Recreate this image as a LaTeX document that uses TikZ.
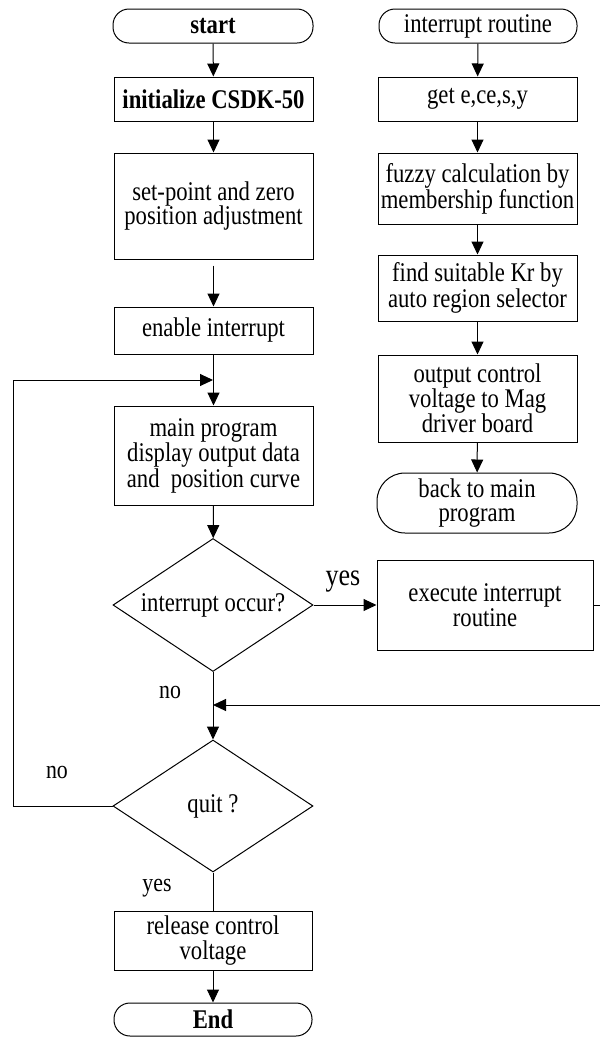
\documentclass[tikz,border=0pt]{standalone}
\usepackage{fontspec}
\setmainfont{Liberation Serif}[FakeStretch=0.84]
\usetikzlibrary{shapes.geometric,arrows.meta}
\begin{document}
\begin{tikzpicture}[x=1pt,y=-1pt,
  every node/.style={inner sep=0pt,align=center,font=\fontsize{27}{24.5}\selectfont},
  box/.style={draw,line width=1pt,rectangle},
  term/.style={draw,line width=1pt,rectangle,rounded corners=16pt},
  dec/.style={draw,line width=1pt,diamond,aspect=1.5,minimum width=200pt,minimum height=133pt},
  lbl/.style={font=\fontsize{26}{26}\selectfont},
  conn/.style={line width=1pt},
  arr/.style={line width=1pt,-{Triangle[length=13pt,width=12pt]}}]
\useasboundingbox (0,0) rectangle (600,1037);
% left column
\node[term,minimum width=200pt,minimum height=34pt,font=\fontsize{27}{24.5}\selectfont\bfseries] (start) at (213,26) {start};
\node[box,minimum width=199pt,minimum height=44pt,font=\fontsize{27}{24.5}\selectfont\bfseries] (init) at (213.5,99) {initialize CSDK-50};
\node[box,minimum width=199pt,minimum height=106pt] (sp) at (213.5,206) {set-point and zero\\position adjustment};
\node[box,minimum width=199pt,minimum height=47pt] (en) at (213.5,330.5) {enable interrupt};
\node[box,minimum width=199pt,minimum height=99pt] (mp) at (213.5,455.5) {main program\\display output data\\and\ \ position curve};
\node[dec] (d1) at (213,605) {interrupt occur?};
\node[box,minimum width=216pt,minimum height=90pt] (ex) at (485,605) {execute interrupt\\routine};
\node[dec,minimum height=132pt] (quit) at (213,806) {quit ?};
\node[box,minimum width=198pt,minimum height=59pt] (rel) at (213,940.5) {release control\\voltage};
\node[term,minimum width=198pt,minimum height=33pt,font=\fontsize{27}{24.5}\selectfont\bfseries] (end) at (213,1019.5) {End};
% right column
\node[term,minimum width=198pt,minimum height=34pt] (ir) at (478,26) {interrupt routine};
\node[box,minimum width=199pt,minimum height=44pt] (get) at (477.5,99) {get e,ce,s,y};
\node[box,minimum width=199pt,minimum height=71pt] (fz) at (477.5,188.5) {fuzzy calculation by\\membership function};
\node[box,minimum width=199pt,minimum height=66pt] (fd) at (477.5,288) {find suitable Kr by\\auto region selector};
\node[box,minimum width=199pt,minimum height=87pt] (out) at (477.5,398.5) {output control\\voltage to Mag\\driver board};
\node[term,minimum width=200pt,minimum height=60pt,rounded corners=28pt] (back) at (477,503) {back to main\\program};
% labels
\node[font=\fontsize{31}{31}\selectfont] (yes1) at (343,582) {yes};
\node[lbl] (no1) at (170,692) {no};
\node[lbl] (no2) at (57,772) {no};
\node[lbl] (yes2) at (157,888) {yes};
% helper coordinates
\coordinate (j1) at (213,380);
\coordinate (j2) at (213,705);
\coordinate (r1) at (603,605);
\coordinate (r2) at (603,705);
\coordinate (l1) at (13,806);
\coordinate (l2) at (13,380);
% connectors left
\draw[arr] (start) -- (init);
\draw[arr] (init) -- (sp);
\draw[arr] ([yshift=-6pt]sp.south) -- (en.north);
\draw[arr] (en) -- (mp);
\draw[arr] (mp) -- (d1);
\draw[arr] (d1.east) -- (ex.west);
\draw[arr] (d1.south) -- (quit.north);
\draw[arr] (ex.east) -- (r1) -- (r2) -- (j2);
\draw[arr] (quit.west) -- (l1) -- (l2) -- (j1);
\draw[conn] (quit.south) -- (rel.north);
\draw[arr] (rel) -- (end);
% connectors right
\draw[arr] (ir) -- (get);
\draw[arr] (get) -- (fz);
\draw[arr] (fz) -- (fd);
\draw[arr] (fd) -- (out);
\draw[arr] (out) -- (back);
\end{tikzpicture}
\end{document}
